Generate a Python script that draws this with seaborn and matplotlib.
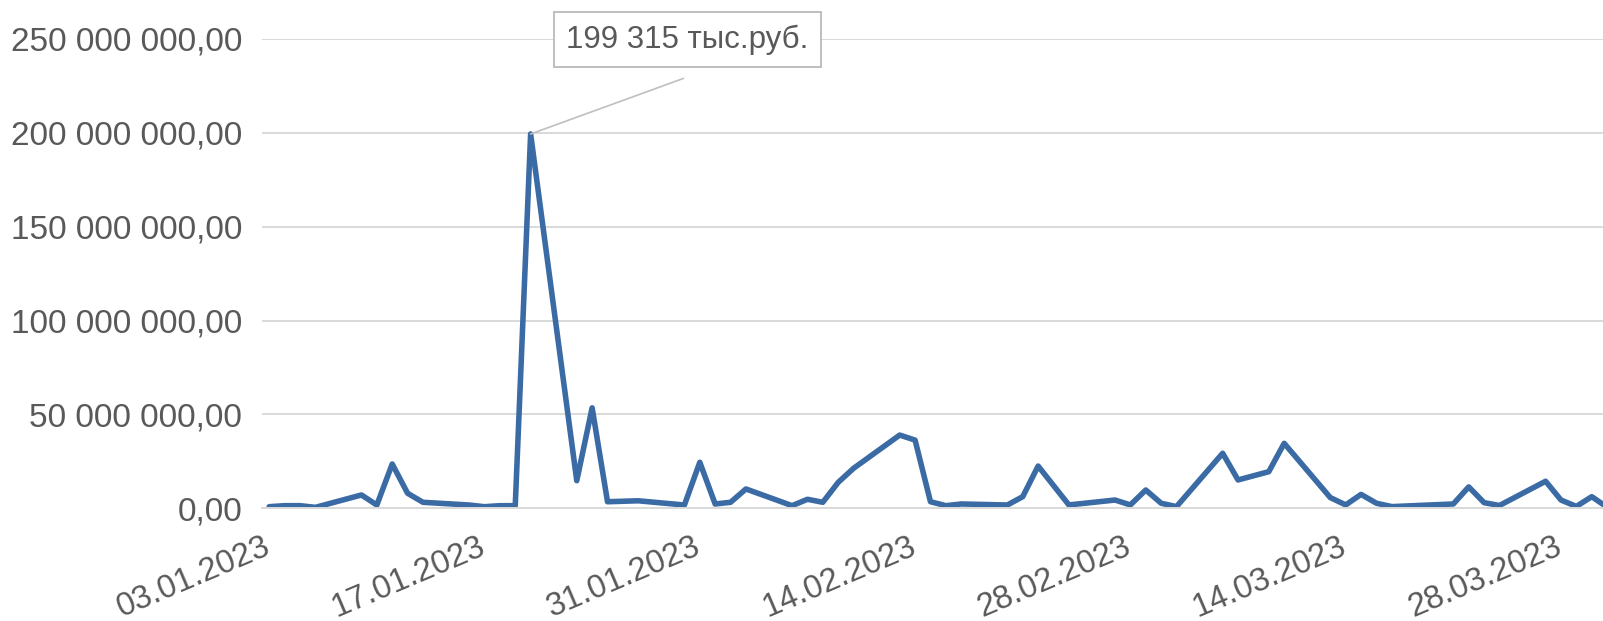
import matplotlib
matplotlib.use("Agg")
import matplotlib.pyplot as plt
import matplotlib.ticker as mticker
import matplotlib.transforms as mtransforms
import pandas as pd
import seaborn as sns

# ---- data ----
dates = [
    "03.01.2023", "04.01.2023", "05.01.2023", "06.01.2023", "09.01.2023", "10.01.2023",
    "11.01.2023", "12.01.2023", "13.01.2023", "16.01.2023", "17.01.2023", "18.01.2023",
    "19.01.2023", "20.01.2023", "23.01.2023", "24.01.2023", "25.01.2023", "27.01.2023",
    "30.01.2023", "31.01.2023", "01.02.2023", "02.02.2023", "03.02.2023", "06.02.2023",
    "07.02.2023", "08.02.2023", "09.02.2023", "10.02.2023", "13.02.2023", "14.02.2023",
    "15.02.2023", "16.02.2023", "17.02.2023", "20.02.2023", "21.02.2023", "22.02.2023",
    "24.02.2023", "27.02.2023", "28.02.2023", "01.03.2023", "02.03.2023", "03.03.2023",
    "06.03.2023", "07.03.2023", "09.03.2023", "10.03.2023", "13.03.2023", "14.03.2023",
    "15.03.2023", "16.03.2023", "17.03.2023", "21.03.2023", "22.03.2023", "23.03.2023",
    "24.03.2023", "27.03.2023", "28.03.2023", "29.03.2023", "30.03.2023", "31.03.2023",
]
values_mln = [
    0.85, 1.4, 1.4, 0.5, 7.1, 1.75,
    23.6, 8.0, 3.2, 1.75, 0.85, 1.4,
    1.4, 199.315, 14.7, 53.5, 3.5, 4.0,
    1.75, 24.5, 2.3, 3.2, 10.3, 1.4,
    4.8, 3.2, 13.8, 21.3, 39.0, 36.3,
    3.5, 1.4, 2.3, 1.75, 6.2, 22.5,
    1.8, 4.4, 1.8, 9.75, 2.7, 0.9,
    29.3, 15.1, 19.5, 34.6, 5.7, 1.8,
    7.4, 2.7, 0.9, 2.3, 11.4, 3.0,
    1.5, 14.4, 4.4, 1.0, 6.2, 0.6,
]
x_tick_labels = ["03.01.2023", "17.01.2023", "31.01.2023", "14.02.2023",
                 "28.02.2023", "14.03.2023", "28.03.2023"]
y_ticks = [0, 50_000_000, 100_000_000, 150_000_000, 200_000_000, 250_000_000]
annot_suffix = " тыс.руб."

df = pd.DataFrame({
    "date": pd.to_datetime(dates, format="%d.%m.%Y") + pd.Timedelta(hours=12),
    "value": [v * 1_000_000 for v in values_mln],
})

# ---- style ----
sns.set_theme(style="white")
plt.rcParams["font.family"] = ["Liberation Sans", "DejaVu Sans"]
TXT = "#595959"
GRID = "#D9D9D9"
LINE = "#3B6BA5"

W, H = 1603, 621
fig = plt.figure(figsize=(W / 100, H / 100), dpi=100)
left_px, zero_px, top_px = 261.5, 508.3, 38.8
ax = fig.add_axes([left_px / W, (H - zero_px) / H, (W - left_px) / W, (zero_px - top_px) / H])

sns.lineplot(data=df, x="date", y="value", ax=ax, color=LINE, linewidth=4.0,
             solid_joinstyle="round", solid_capstyle="round")

x0 = pd.Timestamp("2023-01-03")
px_per_day = 215.3 / 14
ax.set_xlim(x0, x0 + pd.Timedelta(days=(W - left_px) / px_per_day))
ax.set_ylim(0, 250_000_000)

ax.set_yticks(y_ticks)
ax.yaxis.set_major_formatter(mticker.FuncFormatter(
    lambda v, p: f"{v:,.2f}".replace(",", " ").replace(".", ",")))
ax.set_xticks(pd.to_datetime(x_tick_labels, format="%d.%m.%Y"))
ax.set_xticklabels(x_tick_labels)

ax.grid(axis="y", color=GRID, linewidth=1.4)
ax.grid(axis="x", visible=False)
ax.set_axisbelow(True)
for s in ["left", "right", "top"]:
    ax.spines[s].set_visible(False)
ax.spines["bottom"].set_color(GRID)
ax.spines["bottom"].set_linewidth(1.4)

ax.tick_params(axis="y", length=0, pad=14, labelsize=24, labelcolor=TXT)
ax.tick_params(axis="x", length=6, width=1.4, color=GRID, direction="out",
               pad=20.5, labelsize=23.5, labelcolor=TXT)
shift = mtransforms.ScaledTranslation(7 / 100, 0, fig.dpi_scale_trans)
for lab in ax.get_xticklabels():
    lab.set_rotation(23)
    lab.set_ha("right")
    lab.set_va("center")
    lab.set_rotation_mode("anchor")
    lab.set_transform(lab.get_transform() + shift)

ax.set_xlabel("")
ax.set_ylabel("")

# ---- peak annotation ----
imax = df["value"].idxmax()
peak_x = df.loc[imax, "date"]
peak_y = df.loc[imax, "value"]
label = f"{peak_y / 1000:,.0f}".replace(",", " ") + annot_suffix
# leader line
ax.annotate("", xy=(peak_x, peak_y), xytext=(110, 40), textcoords="offset points",
            arrowprops=dict(arrowstyle="-", color="#BFBFBF", lw=1.2,
                            shrinkA=0, shrinkB=0),
            annotation_clip=False, zorder=5)
# label box
ax.annotate(label, xy=(peak_x, peak_y), xytext=(113, 68), textcoords="offset points",
            ha="center", va="center", fontsize=22.5, color=TXT,
            bbox=dict(boxstyle="square,pad=0.4", fc="white", ec="#BFBFBF", lw=1.4),
            annotation_clip=False, zorder=6)

fig.savefig("out.png", dpi=100)
